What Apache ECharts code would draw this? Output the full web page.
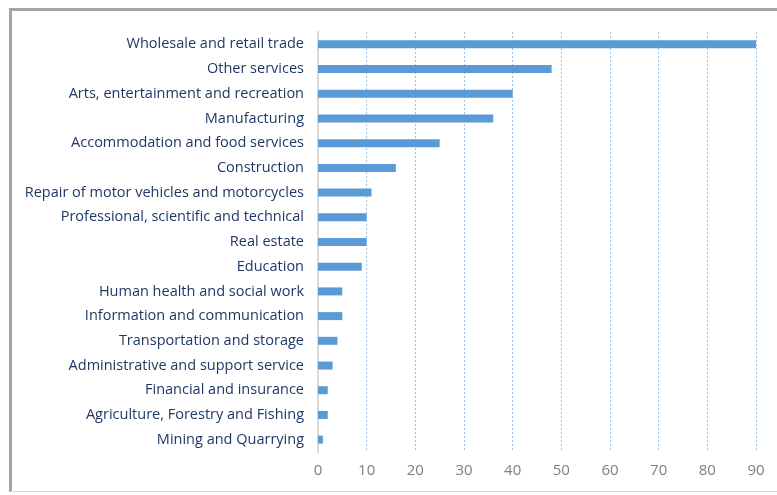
<!DOCTYPE html>
<html>
<head>
<meta charset="utf-8">
<style>
  html, body { margin: 0; padding: 0; background: #ffffff; }
  #frame { position: absolute; left: 9px; top: 8px; width: 780px; height: 484px;
           border-left: 3px solid #a3a2ad; border-top: 3px solid #a3a2ad;
           border-bottom: 1px solid #d9d9d9; box-sizing: border-box; }
  #chart { position: absolute; left: 0; top: 0; width: 777px; height: 495px; }
</style>
<script src="https://cdn.jsdelivr.net/npm/echarts@6/dist/echarts.min.js"></script>
</head>
<body>
<div id="frame"></div>
<div id="chart"></div>
<script>
// Industries, listed bottom to top as the category axis draws them
const industries = [
  'Mining and Quarrying',
  'Agriculture, Forestry and Fishing',
  'Financial and insurance',
  'Administrative and support service',
  'Transportation and storage',
  'Information and communication',
  'Human health and social work',
  'Education',
  'Real estate',
  'Professional, scientific and technical',
  'Repair of motor vehicles and motorcycles',
  'Construction',
  'Accommodation and food services',
  'Manufacturing',
  'Arts, entertainment and recreation',
  'Other services',
  'Wholesale and retail trade'
];
const counts = [1, 2, 2, 3, 4, 5, 5, 9, 10, 10, 11, 16, 25, 36, 40, 48, 90];
const axisMax = 90;
const axisStep = 10;

const chart = echarts.init(document.getElementById('chart'), null, { renderer: 'canvas' });
chart.setOption({
  animation: false,
  grid: { left: 318, right: 21, top: 32, bottom: 43, containLabel: false },
  xAxis: {
    type: 'value',
    min: 0,
    max: axisMax,
    interval: axisStep,
    axisLine: { show: false },
    axisTick: { show: false },
    axisLabel: { color: '#7f7f7f', fontFamily: 'Open Sans', fontSize: 15, margin: 11 },
    splitLine: { show: true, lineStyle: { color: '#9dc3e6', type: [2, 2], width: 1 } }
  },
  yAxis: {
    type: 'category',
    data: industries,
    axisLine: { show: true, lineStyle: { color: '#d9d9d9', width: 2 } },
    axisTick: { show: false },
    axisLabel: { color: '#203864', fontFamily: 'Open Sans', fontSize: 14.5, margin: 14, padding: [2, 0, 0, 0] }
  },
  series: [{
    type: 'bar',
    data: counts,
    barWidth: 8,
    itemStyle: { color: '#5b9bd5' }
  }]
});
</script>
</body>
</html>
